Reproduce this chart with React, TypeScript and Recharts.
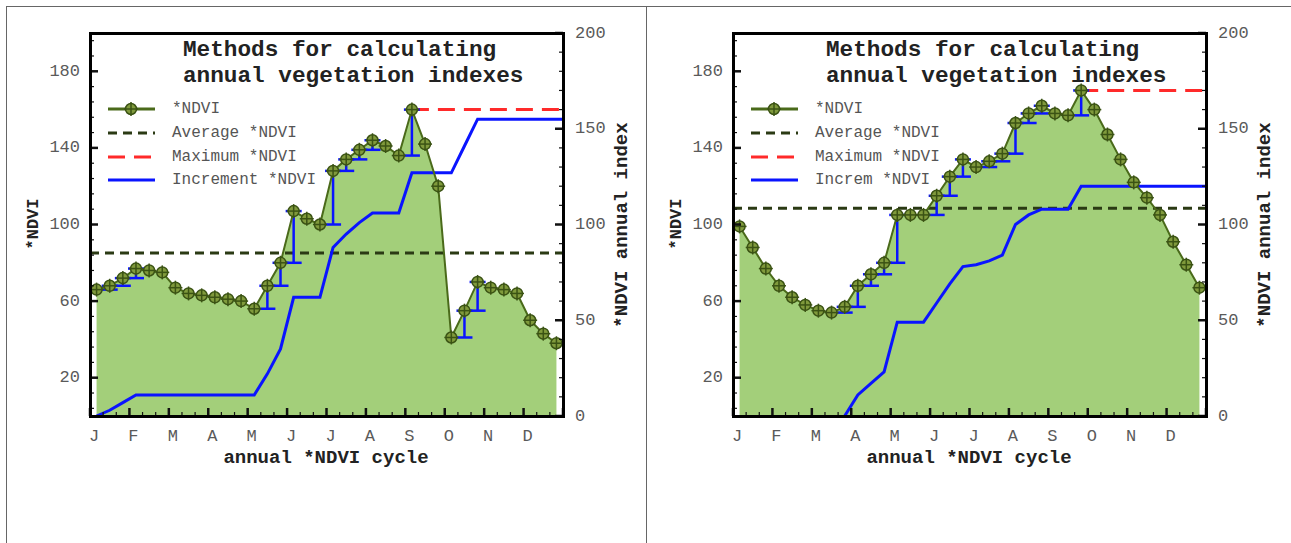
import React from "react";
import {
  ComposedChart,
  Area,
  Line,
  XAxis,
  YAxis,
  ReferenceLine,
  ErrorBar,
} from "recharts";

const MONTHS = ["J", "F", "M", "A", "M", "J", "J", "A", "S", "O", "N", "D"];

// *NDVI per 10-day period (36 per year)
const NDVI_LEFT = [
  66, 68, 72, 77, 76, 75, 67, 64, 63, 62, 61, 60, 56, 68, 80, 107, 103, 100,
  128, 134, 139, 144, 141, 136, 160, 142, 120, 41, 55, 70, 67, 66, 64, 50, 43, 38,
];
const NDVI_RIGHT = [
  99, 88, 77, 68, 62, 58, 55, 54, 57, 68, 74, 80, 105, 105, 105, 115, 125, 134,
  130, 133, 137, 153, 158, 162, 158, 157, 170, 160, 147, 134, 122, 114, 105, 91, 79, 67,
];

// cumulative increment (right axis)
const INCREMENT_LEFT = [
  0, 3, 7, 11, 11, 11, 11, 11, 11, 11, 11, 11, 11, 22, 35, 62, 62, 62,
  88, 95, 101, 106, 106, 106, 127, 127, 127, 127, 141, 155, 155, 155, 155, 155, 155, 155,
];
const INCREMENT_RIGHT = [
  null, null, null, null, null, null, null, null, 0, 11, 17, 23, 49, 49, 49, 59, 69, 78,
  79, 81, 84, 100, 105, 108, 108, 108, 120, 120, 120, 120, 120, 120, 120, 120, 120, 120,
];

const LEFT_TICKS = [
  4, 12, 20, 28, 36, 44, 52, 60, 68, 76, 84, 92, 100, 108, 116, 124, 132, 140,
  148, 156, 164, 172, 180, 188, 196,
];
const LEFT_LABELS = [20, 60, 100, 140, 180];
const RIGHT_TICKS = [
  0, 10, 20, 30, 40, 50, 60, 70, 80, 90, 100, 110, 120, 130, 140, 150, 160, 170,
  180, 190, 200,
];
const RIGHT_LABELS = [0, 50, 100, 150, 200];
const X_TICKS = Array.from({ length: 37 }, (_, i) => i);

const FONT = "'Liberation Mono', 'Courier New', monospace";
const AREA_FILL = "#a3cf7a";
const NDVI_LINE = "#4a6a1a";
const AVG_COLOR = "#2b3a14";
const MAX_COLOR = "#ff2a2a";
const INC_COLOR = "#0a14ff";
const LABEL_GRAY = "#5a5a5a";

function buildRows(ndvi: number[], inc: (number | null)[]) {
  const rows: any[] = ndvi.map((v, i) => ({
    x: i + 0.5,
    ndvi: v,
    inc: inc[i],
    err: i > 0 && v > ndvi[i - 1] ? [v - ndvi[i - 1], 0] : undefined,
  }));
  rows.push({ x: 36, ndvi: null, inc: inc[inc.length - 1], err: undefined });
  return rows;
}

const Marker = (p: any) => {
  const { cx, cy, index } = p;
  if (cx == null || cy == null || p.value == null) return <g key={index} />;
  return (
    <g key={index}>
      <circle cx={cx} cy={cy} r={5.5} fill="#809a3c" stroke="#3b5314" strokeWidth={1.5} />
      <line x1={cx - 7} x2={cx + 7} y1={cy} y2={cy} stroke="#3b5314" strokeWidth={1.5} />
      <line x1={cx} x2={cx} y1={cy - 7} y2={cy + 7} stroke="#3b5314" strokeWidth={1.5} />
    </g>
  );
};

const XTick = (p: any) => {
  const { x, y, payload } = p;
  const v = payload.value;
  const major = v % 3 === 0;
  return (
    <g>
      <line x1={x} x2={x} y1={y} y2={y - (major ? 8 : 4)} stroke="#111" strokeWidth={major ? 2.5 : 1.2} />
      {major && v < 36 && (
        <text x={x + 4} y={y + 20} textAnchor="middle" dominantBaseline="central" fontFamily={FONT} fontSize={17} fill={LABEL_GRAY}>
          {MONTHS[v / 3]}
        </text>
      )}
    </g>
  );
};

const LeftTick = (p: any) => {
  const { x, y, payload } = p;
  const v = payload.value;
  const major = LEFT_LABELS.includes(v);
  return (
    <g>
      <line x1={x} x2={x + (major ? 8 : 4)} y1={y} y2={y} stroke="#111" strokeWidth={major ? 2.5 : 1.2} />
      {major && (
        <text x={x - 10} y={y} textAnchor="end" dominantBaseline="central" fontFamily={FONT} fontSize={17} fill={LABEL_GRAY}>
          {v}
        </text>
      )}
    </g>
  );
};

const RightTick = (p: any) => {
  const { x, y, payload } = p;
  const v = payload.value;
  const major = RIGHT_LABELS.includes(v);
  return (
    <g>
      <line x1={x} x2={x - (major ? 8 : 4)} y1={y} y2={y} stroke="#111" strokeWidth={major ? 2.5 : 1.2} />
      {major && (
        <text x={x + 12} y={y} textAnchor="start" dominantBaseline="central" fontFamily={FONT} fontSize={17} fill={LABEL_GRAY}>
          {v}
        </text>
      )}
    </g>
  );
};

const LEGEND_ROWS = [109, 133, 157, 180];

function Panel({ left, ndvi, inc, incLabel }: { left: number; ndvi: number[]; inc: (number | null)[]; incLabel: string }) {
  const rows = buildRows(ndvi, inc);
  const avg = ndvi.reduce((a, b) => a + b, 0) / ndvi.length;
  const max = Math.max(...ndvi);
  const maxIdx = ndvi.indexOf(max);
  const legendText = ["*NDVI", "Average *NDVI", "Maximum *NDVI", incLabel];

  return (
    <div style={{ position: "absolute", left, top: 0, width: 640, height: 500 }}>
      <ComposedChart
        width={640}
        height={500}
        data={rows}
        margin={{ top: 33, right: 27, bottom: 54, left: 40 }}
      >
        <XAxis
          type="number"
          dataKey="x"
          domain={[0, 36]}
          ticks={X_TICKS}
          interval={0}
          height={30}
          tickSize={0}
          tickMargin={0}
          axisLine={false}
          tick={XTick}
        />
        <YAxis
          yAxisId="left"
          domain={[0, 200]}
          ticks={LEFT_TICKS}
          interval={0}
          width={50}
          tickSize={0}
          tickMargin={0}
          axisLine={false}
          tick={LeftTick}
        />
        <YAxis
          yAxisId="right"
          orientation="right"
          domain={[0, 200]}
          ticks={RIGHT_TICKS}
          interval={0}
          width={50}
          tickSize={0}
          tickMargin={0}
          axisLine={false}
          tick={RightTick}
        />
        <Area
          yAxisId="left"
          type="linear"
          dataKey="ndvi"
          fill={AREA_FILL}
          fillOpacity={1}
          stroke="none"
          dot={false}
          activeDot={false}
          isAnimationActive={false}
        />
        <ReferenceLine yAxisId="left" y={avg} stroke={AVG_COLOR} strokeWidth={3} strokeDasharray="9 6" />
        <ReferenceLine
          yAxisId="left"
          segment={[
            { x: maxIdx + 0.5, y: max },
            { x: 36, y: max },
          ]}
          stroke={MAX_COLOR}
          strokeWidth={3}
          strokeDasharray="17 9"
        />
        <Line
          yAxisId="right"
          type="linear"
          dataKey="inc"
          stroke={INC_COLOR}
          strokeWidth={3}
          dot={false}
          activeDot={false}
          isAnimationActive={false}
        />
        <Line
          yAxisId="left"
          type="linear"
          dataKey="ndvi"
          stroke={NDVI_LINE}
          strokeWidth={2}
          dot={Marker}
          activeDot={false}
          isAnimationActive={false}
        >
          <ErrorBar dataKey="err" direction="y" width={8} stroke={INC_COLOR} strokeWidth={2.5} isAnimationActive={false} />
        </Line>
      </ComposedChart>

      {/* frame */}
      <div
        style={{
          position: "absolute",
          left: 89,
          top: 32,
          width: 476,
          height: 386,
          border: "3px solid #000",
          boxSizing: "border-box",
          pointerEvents: "none",
        }}
      />

      <svg width={640} height={500} style={{ position: "absolute", left: 0, top: 0, pointerEvents: "none" }}>
        <g fontFamily={FONT} fontWeight="bold" fontSize={22.7} fill="#222">
          <text x={183} y={56}>Methods for calculating</text>
          <text x={183} y={82}>annual vegetation indexes</text>
        </g>

        {/* legend */}
        <line x1={108} x2={155} y1={LEGEND_ROWS[0]} y2={LEGEND_ROWS[0]} stroke={NDVI_LINE} strokeWidth={3} />
        <Marker cx={131} cy={LEGEND_ROWS[0]} value={1} index={0} />
        <line x1={108} x2={155} y1={LEGEND_ROWS[1]} y2={LEGEND_ROWS[1]} stroke={AVG_COLOR} strokeWidth={3} strokeDasharray="9 6" />
        <line x1={108} x2={155} y1={LEGEND_ROWS[2]} y2={LEGEND_ROWS[2]} stroke={MAX_COLOR} strokeWidth={3} strokeDasharray="17 9" />
        <line x1={108} x2={155} y1={LEGEND_ROWS[3]} y2={LEGEND_ROWS[3]} stroke={INC_COLOR} strokeWidth={3} />
        <g fontFamily={FONT} fontSize={16} fill="#555">
          {legendText.map((t, i) => (
            <text key={t} x={172} y={LEGEND_ROWS[i]} dominantBaseline="central">
              {t}
            </text>
          ))}
        </g>

        {/* axis titles */}
        <g fontFamily={FONT} fontWeight="bold" fill="#222">
          <text x={326} y={458} fontSize={19} textAnchor="middle" dominantBaseline="central">
            annual *NDVI cycle
          </text>
          <text
            x={33}
            y={224}
            fontSize={17}
            textAnchor="middle"
            dominantBaseline="central"
            transform="rotate(-90 33 224)"
          >
            *NDVI
          </text>
          <text
            x={622}
            y={225}
            fontSize={19}
            textAnchor="middle"
            dominantBaseline="central"
            transform="rotate(-90 622 225)"
          >
            *NDVI annual index
          </text>
        </g>
      </svg>
    </div>
  );
}

export default function App() {
  return (
    <div
      style={{
        position: "absolute",
        left: 0,
        top: 0,
        width: 1291,
        height: 543,
        overflow: "hidden",
        background: "#fff",
      }}
    >
      <div
        style={{
          position: "absolute",
          left: 6,
          top: 6,
          width: 1300,
          height: 600,
          border: "1px solid #666",
        }}
      />
      <div style={{ position: "absolute", left: 646, top: 6, width: 1, height: 600, background: "#666" }} />
      <Panel left={0} ndvi={NDVI_LEFT} inc={INCREMENT_LEFT} incLabel="Increment *NDVI" />
      <Panel left={643} ndvi={NDVI_RIGHT} inc={INCREMENT_RIGHT} incLabel="Increm *NDVI" />
    </div>
  );
}
